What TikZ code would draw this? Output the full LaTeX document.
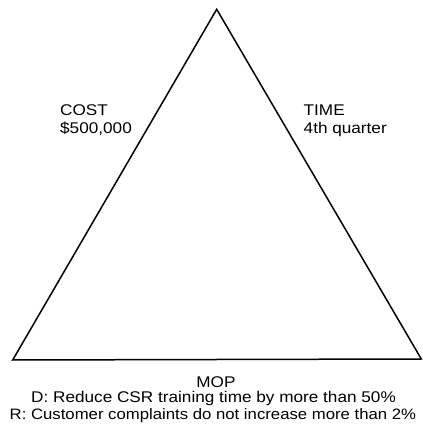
\documentclass[tikz,border=0pt]{standalone}
\usepackage{fontspec}
\setmainfont{Liberation Sans}[FakeStretch=1.108]
\usepackage{tikz}
\usetikzlibrary{calc}
\usetikzlibrary{positioning}
\tikzset{>=latex}
\tikzstyle{lbl} = [rectangle, draw=none, inner sep=0pt, anchor=base west, font=\fontsize{15.5}{18}\selectfont]

\begin{document}
\begin{tikzpicture}[x=1pt, y=1pt]
\useasboundingbox [fill=white] (0, 0) rectangle (423, 434);
\coordinate (P) at (216.7, 424.7);
\coordinate (L) at (12.7, 74);
\coordinate (R) at (421.3, 75);
\draw [line width=1.5pt, line join=miter] (P) -- (L) -- (R) -- cycle;
\node [lbl] (C) at (60, 318) {COST};
\node [lbl] (Cv) at (60, 300) {\$500,000};
\node [lbl] (T) at (303.5, 318) {TIME};
\node [lbl] (Tv) at (303.5, 300) {4th quarter};
\node [lbl, anchor=base] (M) at (216, 46) {MOP};
\node [lbl] (D) at (31, 31) {D: Reduce CSR training time by more than 50\%};
\node [lbl, font=\fontsize{15.1}{18}\selectfont] (Rq) at (9.5, 15) {R: Customer complaints do not increase more than 2\%};
\end{tikzpicture}
\end{document}
